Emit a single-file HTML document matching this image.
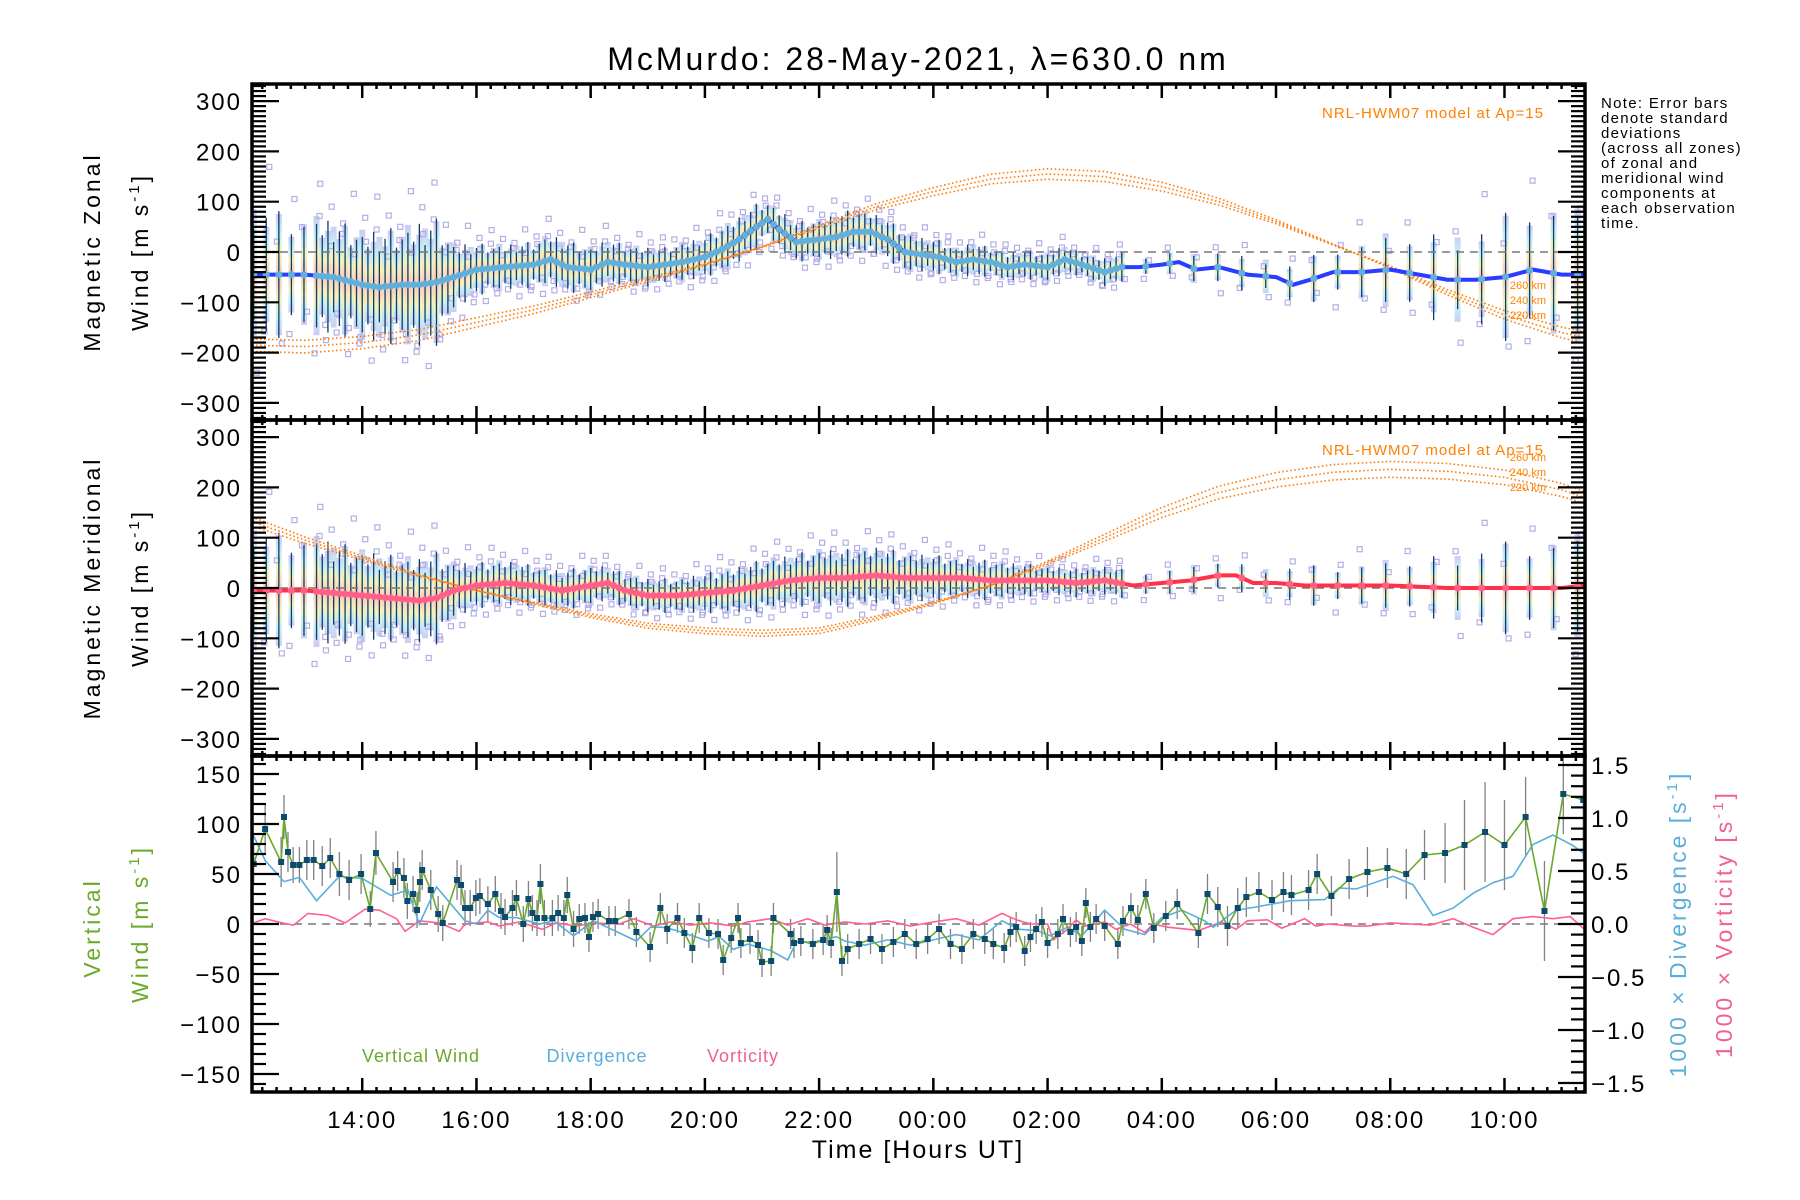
<!DOCTYPE html>
<html><head><meta charset="utf-8"><title>McMurdo winds</title>
<style>
html,body{margin:0;padding:0;background:#fff;}
svg{display:block;font-family:"Liberation Sans",sans-serif;}
</style></head>
<body>
<svg id="chart" width="1800" height="1200" viewBox="0 0 1800 1200">
<defs>
<linearGradient id="pastel" x1="0" y1="0" x2="0" y2="1">
<stop offset="0" stop-color="#c8c4f0"/><stop offset="0.15" stop-color="#bfe9f6"/><stop offset="0.3" stop-color="#f6f0b4"/><stop offset="0.5" stop-color="#f9c3b6"/><stop offset="0.7" stop-color="#f6f0b4"/><stop offset="0.85" stop-color="#bfe9f6"/><stop offset="1" stop-color="#c8c4f0"/>
</linearGradient>
</defs>
<text x="918" y="70" font-size="32" letter-spacing="3" text-anchor="middle">McMurdo: 28-May-2021, λ=630.0 nm</text>
<g id="layer-bg"></g>
<g id="layer-axes" letter-spacing="2"></g>
<g font-size="15" letter-spacing="1.3">
<text x="1601" y="108">Note: Error bars</text>
<text x="1601" y="123">denote standard</text>
<text x="1601" y="138">deviations</text>
<text x="1601" y="153">(across all zones)</text>
<text x="1601" y="168">of zonal and</text>
<text x="1601" y="183">meridional wind</text>
<text x="1601" y="198">components at</text>
<text x="1601" y="213">each observation</text>
<text x="1601" y="228">time.</text>
</g>
<g font-size="23" text-anchor="middle" letter-spacing="3">
<text transform="translate(100,252) rotate(-90)">Magnetic Zonal</text>
<text transform="translate(148,252) rotate(-90)">Wind [m s<tspan dy="-9" font-size="15">-1</tspan><tspan dy="9">]</tspan></text>
<text transform="translate(100,588) rotate(-90)">Magnetic Meridional</text>
<text transform="translate(148,588) rotate(-90)">Wind [m s<tspan dy="-9" font-size="15">-1</tspan><tspan dy="9">]</tspan></text>
<text transform="translate(100,928) rotate(-90)" fill="#6aaa2a">Vertical</text>
<text transform="translate(148,924) rotate(-90)" fill="#6aaa2a">Wind [m s<tspan dy="-9" font-size="15">-1</tspan><tspan dy="9">]</tspan></text>
<text transform="translate(1686,924) rotate(-90)" fill="#5aaedc">1000 × Divergence [s<tspan dy="-9" font-size="15">-1</tspan><tspan dy="9">]</tspan></text>
<text transform="translate(1732,924) rotate(-90)" fill="#f06090">1000 × Vorticity [s<tspan dy="-9" font-size="15">-1</tspan><tspan dy="9">]</tspan></text>
</g>
<text x="918" y="1158" font-size="25" letter-spacing="2" text-anchor="middle">Time [Hours UT]</text>
<g font-size="18" letter-spacing="1">
<text x="421" y="1062" text-anchor="middle" fill="#6aaa2a">Vertical Wind</text>
<text x="597" y="1062" text-anchor="middle" fill="#5aaedc">Divergence</text>
<text x="743" y="1062" text-anchor="middle" fill="#f06090">Vorticity</text>
</g>
<g font-size="15" fill="#ff8000" text-anchor="end" letter-spacing="1">
<text x="1544" y="118">NRL-HWM07 model at Ap=15</text>
<text x="1544" y="455">NRL-HWM07 model at Ap=15</text>
</g>
<g font-size="11" fill="#ff8000" text-anchor="end">
<text x="1546" y="289">260 km</text>
<text x="1546" y="304">240 km</text>
<text x="1546" y="319">220 km</text>
<text x="1546" y="461">260 km</text>
<text x="1546" y="476">240 km</text>
<text x="1546" y="491">220 km</text>
</g>
</svg>
<script>
// ---- data ----
const zT=[12.1,12.5,13,13.5,14,14.3,14.7,15,15.3,15.6,16,16.5,17,17.3,17.6,18,18.3,18.6,19,19.3,19.6,20,20.3,20.6,20.9,21.1,21.3,21.6,22,22.3,22.6,22.9,23.2,23.5,23.8,24.1,24.4,24.7,25,25.3,25.6,26,26.3,26.6,27,27.3,27.6,28,28.3,28.6,29,29.5,30,30.3,30.6,31,31.5,32,32.5,33,33.5,34,34.5,35,35.4];
const zM=[-45,-45,-45,-50,-65,-70,-65,-65,-60,-50,-35,-30,-25,-15,-30,-35,-20,-25,-30,-25,-20,-10,5,25,50,65,45,20,25,30,40,40,25,0,-5,-10,-20,-15,-20,-30,-25,-30,-15,-25,-40,-30,-30,-25,-20,-35,-30,-45,-50,-65,-55,-40,-40,-35,-45,-55,-55,-50,-35,-45,-45];
const zS=[130,110,105,100,95,100,100,110,110,60,45,40,40,45,45,40,40,35,35,30,35,35,40,40,40,30,35,35,35,40,40,35,35,35,30,30,25,30,25,25,25,25,25,20,25,25,20,20,25,25,35,30,35,35,40,45,55,65,75,80,90,110,130,125,110];
const mT=[12.1,12.5,13,13.5,14,14.5,15,15.3,15.6,16,16.5,17,17.5,18,18.3,18.6,19,19.5,20,20.5,21,21.5,22,22.5,23,23.5,24,24.5,25,25.5,26,26.5,27,27.5,28,28.5,29,29.3,29.6,30,30.5,31,32,33,34,35,35.4];
const mM=[-5,-5,-5,-10,-15,-20,-25,-20,-5,5,10,5,-5,5,10,-5,-15,-15,-10,-5,5,15,20,20,25,20,20,20,15,15,15,10,15,5,10,15,25,25,10,10,5,5,5,0,0,0,5];
const mS=[120,100,100,90,80,75,75,80,50,40,40,35,35,35,30,30,30,30,35,40,45,45,50,50,50,45,40,35,35,30,25,25,25,25,25,25,30,25,25,30,35,35,45,60,80,90,90];
// HWM07 model, hourly
const hwmT=[12,13,14,15,16,17,18,19,20,21,22,23,24,25,26,27,28,29,30,31,32,33,34,35,35.4];
const hwmZonal240=[-185,-188,-180,-165,-140,-115,-85,-55,-25,10,50,90,120,145,155,150,130,100,60,15,-30,-80,-125,-160,-170];
const hwmMerid240=[135,95,60,25,-5,-30,-55,-75,-85,-90,-85,-60,-30,5,50,100,150,190,215,230,236,232,220,195,180];
const hwmAltOffset=[8,0,-8];
// vertical wind
const vT=[12.1,12.3,12.58,12.63,12.7,12.79,12.9,13.03,13.15,13.3,13.44,13.6,13.77,13.98,14.14,14.24,14.54,14.62,14.73,14.79,14.89,14.96,15.01,15.05,15.2,15.33,15.41,15.66,15.73,15.8,15.89,15.99,16.06,16.2,16.33,16.43,16.5,16.63,16.7,16.82,16.91,16.98,17.06,17.12,17.19,17.33,17.43,17.53,17.59,17.7,17.8,17.9,17.97,18.04,18.13,18.32,18.43,18.67,18.8,19.04,19.22,19.34,19.52,19.64,19.78,19.9,20.07,20.23,20.32,20.46,20.58,20.63,20.79,20.93,21.0,21.16,21.2,21.5,21.56,21.68,21.89,22.07,22.14,22.21,22.31,22.4,22.5,22.7,22.9,23.1,23.3,23.5,23.7,23.9,24.1,24.3,24.5,24.7,24.9,25.05,25.24,25.35,25.45,25.6,25.7,25.8,25.9,26.0,26.18,26.27,26.4,26.5,26.6,26.67,26.75,26.85,27.0,27.23,27.32,27.46,27.58,27.72,27.86,28.07,28.27,28.64,28.8,28.98,29.15,29.33,29.48,29.7,29.93,30.13,30.27,30.57,30.72,30.97,31.28,31.6,31.95,32.28,32.6,32.96,33.3,33.66,34.0,34.37,34.7,35.03,35.38];
const vW=[60,95,62,107,72,59,59,64,64,58,66,50,44,50,15,71,42,53,46,23,30,14,42,54,34,10,1,44,39,16,16,26,28,20,30,13,7,16,26,0,25,11,6,40,6,6,11,6,29,-5,5,6,-13,7,10,3,3,10,-8,-23,16,-5,6,-9,-24,6,-9,-10,-36,-14,6,-19,-15,-21,-38,-37,6,-10,-19,-17,-20,-16,-6,-19,32,-37,-25,-20,-15,-25,-18,-10,-20,-15,-5,-20,-25,-10,-15,-20,-24,-8,-3,-27,-13,-5,2,-19,-10,5,-8,-3,-17,21,-3,5,-2,-20,3,16,4,30,-4,8,20,-9,30,17,-2,16,27,32,24,32,29,34,50,28,45,52,56,50,69,71,79,92,79,107,13,130,124];
const vS=[20,25,25,22,20,18,18,20,20,20,20,22,20,20,18,22,20,20,20,18,18,18,20,20,20,18,18,20,20,18,18,18,18,18,18,18,18,18,18,18,18,18,18,20,18,18,18,18,18,18,15,15,15,15,15,15,15,15,15,15,15,15,15,15,15,15,15,15,15,15,15,15,15,15,15,15,15,15,15,15,15,15,15,15,40,15,15,15,15,15,15,15,15,15,15,15,15,15,15,15,15,15,15,15,15,15,15,15,15,15,15,15,15,15,15,15,15,15,15,15,15,15,15,15,15,15,20,20,20,20,20,20,20,20,20,20,20,20,20,25,20,25,25,30,45,50,45,40,50,40,60,60];
const dT=[12.1,12.3,12.63,12.9,13.2,13.6,14.0,14.5,14.8,15.0,15.3,15.8,16.0,16.2,16.4,16.7,17.1,17.35,17.7,18.05,18.8,19.05,19.25,19.5,20.05,20.25,20.5,20.75,21.15,21.45,21.6,21.9,22.3,22.45,22.8,23.2,23.6,24.0,24.4,24.8,25.2,25.5,25.8,26.05,26.35,26.6,27.0,27.35,27.7,28.0,28.35,28.75,28.9,29.3,29.65,30.25,30.85,31.1,31.4,32.05,32.4,32.75,33.1,33.45,33.8,34.15,34.5,34.85,35.2,35.4];
const dV=[0.83,0.6,0.4,0.44,0.22,0.45,0.43,0.27,0.32,0.0,0.35,0.03,0.0,0.13,0.06,0.06,0.0,0.03,-0.11,0.03,-0.16,-0.03,-0.03,-0.06,-0.16,-0.12,-0.24,-0.19,-0.25,-0.34,-0.17,-0.17,-0.12,-0.16,-0.2,-0.15,-0.2,-0.15,-0.1,-0.15,0.03,-0.05,-0.06,-0.11,-0.03,-0.11,0.13,-0.05,-0.1,0.06,0.13,0.03,-0.03,0.13,0.16,0.22,0.23,0.34,0.33,0.45,0.37,0.08,0.15,0.29,0.39,0.45,0.75,0.84,0.74,0.66];
const rT=[12.1,12.3,12.6,12.8,13.05,13.4,13.7,14.05,14.3,14.6,14.75,15.0,15.35,15.7,15.8,16.2,16.4,16.75,17.15,17.4,17.75,18.05,18.5,18.75,19.1,19.4,19.75,20.1,20.5,20.75,21.15,21.45,21.8,22.1,22.45,22.8,23.2,23.6,24.0,24.4,24.8,25.2,25.45,25.7,26.0,26.1,26.35,26.5,26.65,27.0,27.2,27.45,27.7,27.85,28.1,28.65,29.05,29.3,29.5,29.85,30.1,30.5,30.7,30.9,31.35,31.6,32.0,32.7,33.1,33.45,33.8,34.15,34.5,34.85,35.15,35.4];
const rV=[0.01,0.05,0.01,-0.01,0.1,0.08,0.01,0.14,0.13,0.05,-0.07,0.03,0.01,-0.07,0,0.02,-0.02,0.02,-0.05,0.01,-0.02,0.01,0,0.05,-0.02,0.02,-0.01,0.01,-0.02,0.02,0.05,-0.01,0.05,-0.01,0.02,0,0.03,-0.02,0.02,0.05,-0.01,0.1,0.04,0,0,-0.15,-0.05,0.04,-0.02,0.02,-0.05,0,-0.08,0,-0.03,-0.06,0.02,-0.05,0.03,0.04,-0.04,0.05,-0.02,0,-0.02,-0.02,0.01,-0.01,0.05,-0.03,-0.1,0.05,0.07,0.05,0.07,-0.05];
const xTickHours=[14,16,18,20,22,24,26,28,30,32,34];
const xTickLabels=["14:00","16:00","18:00","20:00","22:00","00:00","02:00","04:00","06:00","08:00","10:00"];
const windTicks=[-300,-200,-100,0,100,200,300];
const vertTicks=[-150,-100,-50,0,50,100,150];
const rightTicks=[-1.5,-1.0,-0.5,0.0,0.5,1.0,1.5];

// ---- geometry ----
const NS='http://www.w3.org/2000/svg';
const X0=252,X1=1585,H0=12.07,H1=35.41;
const P=[{top:84,rng:334},{top:420,rng:334},{top:756,rng:168}];
const PH=336;
const RRNG=1.585;
function xs(h){return X0+(h-H0)*(X1-X0)/(H1-H0);}
function ys(p,v){return P[p].top+PH/2-v*(PH/2)/P[p].rng;}
function yr(v){return P[2].top+PH/2-v*(PH/2)/RRNG;}
const bg=document.getElementById('layer-bg');
const ax=document.getElementById('layer-axes');
function mk(tag,attrs,parent){const e=document.createElementNS(NS,tag);for(const k in attrs)e.setAttribute(k,attrs[k]);(parent||bg).appendChild(e);return e;}
function interp(T,V,h){if(h<=T[0])return V[0];for(let i=1;i<T.length;i++){if(h<=T[i]){const f=(h-T[i-1])/(T[i]-T[i-1]);return V[i-1]+f*(V[i]-V[i-1]);}}return V[V.length-1];}
const scat=[1.15,-1.25,0.9,-0.95,1.4,-1.5,0.6,-0.7,1.8,-1.1];
const jig=[1.0,0.8,1.1,0.7,0.95,1.15,0.75,0.9];

const cp=mk('clipPath',{id:'plotclip'},document.querySelector('defs'));
mk('rect',{x:X0,y:84,width:X1-X0,height:1008},cp);
bg.setAttribute('clip-path','url(#plotclip)');

function windPanel(p,T,M,S,lineCol,dotCol,name){
  const g=mk('g',{});
  
  
  const bars=[];
  for(let h=T[0];h<=T[T.length-1]+1e-6;){bars.push(h);const step=(h<13.0)?0.22:(h<27.3?0.1:0.42);h+=step;}
  const sg=mk('g',{},g);
  bars.forEach((h,i)=>{
    const m=interp(T,M,h),s=interp(T,S,h)*jig[i%jig.length];
    const x=xs(h),ya=ys(p,m+s),yb=ys(p,m-s);
    const r=mk('rect',{x:x-3,y:ya,width:6,height:yb-ya,fill:'url(#pastel)',opacity:0.9},sg);
    
    
  });
  bars.forEach((h,i)=>{
    const m=interp(T,M,h),s=interp(T,S,h);
    for(let k=0;k<2;k++){
      const f=scat[(i*3+k*5)%scat.length];
      const q=mk('rect',{x:xs(h)-2.5+(k?3:-2),y:ys(p,m+f*s)-2.5,width:5,height:5,fill:'none',stroke:'#b4aee6','stroke-width':1.2},sg);
      
      
    }
  });
  bars.forEach((h,i)=>{
    const m=interp(T,M,h),s=interp(T,S,h)*jig[(i+3)%jig.length];
    const l=mk('line',{x1:xs(h),x2:xs(h),y1:ys(p,m+s),y2:ys(p,m-s),stroke:'#0a3d6a','stroke-width':1.3},sg);
    
    
  });
  const z=mk('line',{x1:X0,x2:X1,y1:ys(p,0),y2:ys(p,0),stroke:'#777','stroke-width':1.5,'stroke-dasharray':'8,6'},g);
  
  
  const alt=['260','240','220'];
  const base=(p===0)?hwmZonal240:hwmMerid240;
  hwmAltOffset.forEach((o,k)=>{
    const pts=hwmT.map((h,i)=>{const v=base[i];const adj=v+o*Math.sign(v)*(Math.abs(v)/120);return xs(h).toFixed(1)+','+ys(p,adj).toFixed(1);}).join(' ');
    const pl=mk('polyline',{points:pts,fill:'none',stroke:'#ff7f0e','stroke-width':1.6,'stroke-dasharray':'1.6,2.4'},g);
    
    
  });
  const pts=T.map((h,i)=>xs(h).toFixed(1)+','+ys(p,M[i]).toFixed(1)).join(' ');
  const ml=mk('polyline',{points:pts,fill:'none',stroke:lineCol,'stroke-width':4},g);
  
  
  bars.forEach(h=>{
    const c=mk('circle',{cx:xs(h),cy:ys(p,interp(T,M,h)),r:3.5,fill:dotCol},g);
    
    
  });
}
windPanel(0,zT,zM,zS,'#2a3cff','#60b0dc','zonal');
windPanel(1,mT,mM,mS,'#ff3048','#ff6088','meridional');

(function(){
  const g=mk('g',{});
  
  
  const z=mk('line',{x1:X0,x2:X1,y1:ys(2,0),y2:ys(2,0),stroke:'#777','stroke-width':1.5,'stroke-dasharray':'8,6'},g);
  
  
  vT.forEach((h,i)=>{
    const s=vS[i]||15;
    const l=mk('line',{x1:xs(h),x2:xs(h),y1:ys(2,vW[i]+s),y2:ys(2,vW[i]-s),stroke:'#808080','stroke-width':1.3},g);
    
    
  });
  const rl=mk('polyline',{points:rT.map((h,i)=>xs(h).toFixed(1)+','+yr(rV[i]).toFixed(1)).join(' '),fill:'none',stroke:'#ff6090','stroke-width':1.6},g);
  
  
  const dl=mk('polyline',{points:dT.map((h,i)=>xs(h).toFixed(1)+','+yr(dV[i]).toFixed(1)).join(' '),fill:'none',stroke:'#5aaedc','stroke-width':1.6},g);
  
  
  const vl=mk('polyline',{points:vT.map((h,i)=>xs(h).toFixed(1)+','+ys(2,vW[i]).toFixed(1)).join(' '),fill:'none',stroke:'#6aaa2a','stroke-width':1.6},g);
  
  
  vT.forEach((h,i)=>{
    const r=mk('rect',{x:xs(h)-3,y:ys(2,vW[i])-3,width:6,height:6,fill:'#0c4a6e'},g);
    
    
  });
})();

function L(x1,y1,x2,y2,w,name){const l=mk('line',{x1:x1,y1:y1,x2:x2,y2:y2,stroke:'#000','stroke-width':w},ax);return l;}
function T(x,y,s,anchor,name,size){const t=mk('text',{x:x,y:y,'text-anchor':anchor,'font-size':size||24},ax);t.textContent=s;return t;}
function fmt(v){return (v<0?'\u2212':'')+Math.abs(v);}
for(let p=0;p<3;p++){
  const top=P[p].top,bot=top+PH;
  const fr=mk('rect',{x:X0,y:top,width:X1-X0,height:PH,fill:'none',stroke:'#000','stroke-width':3.5},ax);
  
  
  for(let q=Math.ceil(H0*4);q<=Math.floor(H1*4);q++){
    const h=q/4,x=xs(h),maj=(q%8===0);
    const len=maj?14:5;
    L(x,top,x,top+len,2.5,'x-tick');
    L(x,bot,x,bot-len,2.5,'x-tick');
  }
  if(p<2){
    for(let v=-330;v<=330;v+=10){
      const y=ys(p,v),maj=(v%100===0);
      const len=maj?27:14;
      L(X0,y,X0+len,y,2.2,'y-tick');L(X1,y,X1-len,y,2.2,'y-tick');
    }
    windTicks.forEach(v=>T(X0-10,ys(p,v)+9,fmt(v),'end','y-tick-label'));
  } else {
    for(let v=-160;v<=160;v+=10){
      const y=ys(2,v),maj=(v%50===0);
      L(X0,y,X0+(maj?27:14),y,2.2,'y-tick');
    }
    vertTicks.forEach(v=>T(X0-10,ys(2,v)+9,fmt(v),'end','y-tick-label'));
    for(let k=-15;k<=15;k++){
      const v=k/10,y=yr(v),maj=(k%5===0);
      L(X1,y,X1-(maj?27:14),y,2.2,'right-y-tick');
    }
    rightTicks.forEach(v=>T(X1+6,yr(v)+9,(v<0?'\u2212':'')+Math.abs(v).toFixed(1),'start','right-y-tick-label'));
  }
}
xTickHours.forEach((h,i)=>T(xs(h),1128,xTickLabels[i],'middle','x-tick-label'));
</script>
</body></html>
